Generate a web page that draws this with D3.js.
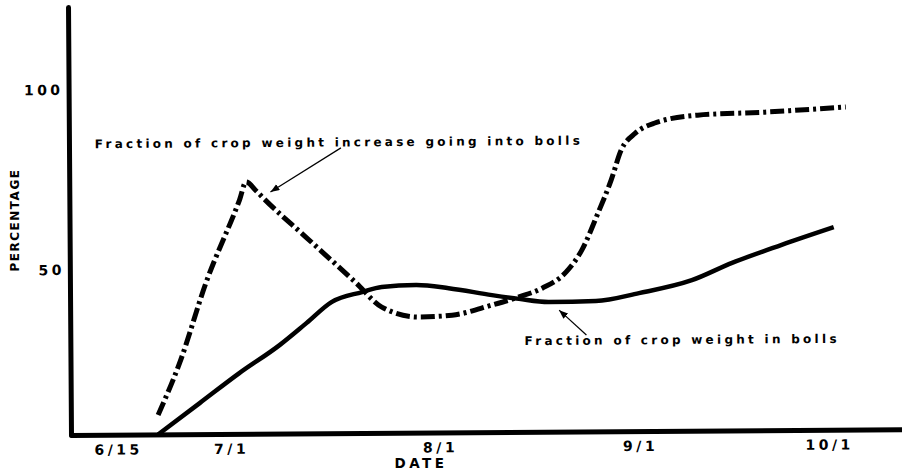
<!DOCTYPE html>
<html>
<head>
<meta charset="utf-8">
<script src="https://cdn.jsdelivr.net/npm/d3@7"></script>
<style>
  body { margin: 0; background: #fff; }
  text { font-family: "DejaVu Sans", sans-serif; font-weight: bold; fill: #000; }
</style>
</head>
<body>
<div id="chart"></div>
<script>
// page set up
const FRAME_WIDTH = 902;
const FRAME_HEIGHT = 473;

// tick values (days after 6/15) and their labels
const DAY_TICKS = [0, 16, 47, 78, 108];
const DATE_LABELS = ["6/15", "7/1", "8/1", "9/1", "10/1"];
const PCT_TICKS = [50, 100];

// fraction of crop weight in bolls (solid)
const BOLLS_DAYS = [5.7, 11.6, 17.3, 23.3, 27.3, 31.1, 35.6, 38.5, 43.6, 48.5, 55.2, 59.4, 64.0, 71.3, 78.0, 86.4, 92.8, 100.7, 109.0];
const BOLLS_PCT  = [0, 9.4, 18.4, 26.8, 33.4, 39.8, 42.7, 44.2, 44.7, 43.7, 41.5, 40.3, 39.3, 39.5, 41.8, 45.6, 50.7, 55.6, 60.4];

// fraction of crop weight increase going into bolls (dash-dot)
const INCREASE_DAYS = [5.7, 8.8, 12.6, 17.5, 18.5, 20.0, 21.3, 27.3, 34.7, 38.5, 44.0, 49.0, 55.2, 59.4, 63.0, 66.7, 69.2, 71.8, 73.8, 75.4, 77.6, 80.7, 87.5, 98.2, 111.1];
const INCREASE_PCT  = [5.9, 21.6, 45.8, 69.1, 74.1, 71.6, 69.1, 58.7, 45.5, 38.1, 35.0, 35.5, 38.5, 40.9, 43.5, 48.3, 54.6, 65.1, 73.9, 82.3, 86.9, 89.7, 91.8, 92.5, 93.8];

// annotations: [day, pct, width], arrows: [fromDay, fromPct, toDay, toPct]
const NOTE_TEXTS = ["Fraction of crop weight increase going into bolls", "Fraction of crop weight in bolls"];
const NOTE_POS = [[-3.0, 83.8, 485], [60.2, 26.3, 312]];
const ARROWS = [[32.6, 83.4, 22.1, 71.3], [69.8, 29.2, 65.6, 36.8]];

const SVG = d3.select("#chart")
  .append("svg")
  .attr("width", FRAME_WIDTH)
  .attr("height", FRAME_HEIGHT);

SVG.append("defs").append("marker")
  .attr("id", "head")
  .attr("markerUnits", "userSpaceOnUse")
  .attr("markerWidth", 10).attr("markerHeight", 8)
  .attr("refX", 9).attr("refY", 3.5)
  .attr("orient", "auto")
  .append("path")
  .attr("d", "M0,0L9,3.5L0,7Z");

// the scanned plot is tilted a little
const PLOT = SVG.append("g")
  .attr("transform", "rotate(-0.4, 71, 435)");

// scales (hand drawn axes are not evenly spaced)
const X_SCALE = d3.scaleLinear()
  .domain([-6.65, 0, 16, 47, 78, 108, 122])
  .range([71, 118, 231, 440, 640, 829, 915]);

const Y_SCALE = d3.scaleLinear()
  .domain([0, 50, 100, 123.06])
  .range([435, 270, 90, 7]);

// x axis
const xAxis = PLOT.append("g")
  .attr("transform", "translate(0," + Y_SCALE(0) + ")")
  .call(d3.axisBottom(X_SCALE)
    .tickValues(DAY_TICKS)
    .tickFormat((d, i) => DATE_LABELS[i])
    .tickSize(0)
    .tickPadding(10));

// y axis
const yAxis = PLOT.append("g")
  .attr("transform", "translate(" + X_SCALE(-6.65) + ",0)")
  .call(d3.axisLeft(Y_SCALE)
    .tickValues(PCT_TICKS)
    .tickSize(0)
    .tickPadding(5));

[xAxis, yAxis].forEach((ax) => {
  ax.select(".domain")
    .attr("stroke", "#000")
    .attr("stroke-width", 5)
    .attr("stroke-linecap", "round");
  ax.selectAll("text")
    .attr("font-size", "14px")
    .attr("letter-spacing", "3.5px")
    .style("font-family", "'DejaVu Sans', sans-serif")
    .style("font-weight", "bold");
});

// curves
const lineGen = (days, pcts) => d3.line()
  .x((d, i) => X_SCALE(days[i]))
  .y((d, i) => Y_SCALE(pcts[i]))
  .curve(d3.curveMonotoneX)(days);

PLOT.append("path")
  .attr("d", lineGen(BOLLS_DAYS, BOLLS_PCT))
  .attr("fill", "none")
  .attr("stroke", "#000")
  .attr("stroke-width", 4.5)
  .attr("stroke-linejoin", "round");

PLOT.append("path")
  .attr("d", lineGen(INCREASE_DAYS, INCREASE_PCT))
  .attr("fill", "none")
  .attr("stroke", "#000")
  .attr("stroke-width", 5)
  .attr("stroke-dasharray", "14,4,3,4");

// annotations
PLOT.selectAll(".note")
  .data(NOTE_TEXTS)
  .enter()
  .append("text")
  .attr("class", "note")
  .attr("x", (d, i) => X_SCALE(NOTE_POS[i][0]))
  .attr("y", (d, i) => Y_SCALE(NOTE_POS[i][1]))
  .attr("textLength", (d, i) => NOTE_POS[i][2])
  .attr("lengthAdjust", "spacing")
  .attr("font-size", "12px")
  .text((d) => d);

PLOT.selectAll(".arrow")
  .data(ARROWS)
  .enter()
  .append("line")
  .attr("x1", (d) => X_SCALE(d[0]))
  .attr("y1", (d) => Y_SCALE(d[1]))
  .attr("x2", (d) => X_SCALE(d[2]))
  .attr("y2", (d) => Y_SCALE(d[3]))
  .attr("stroke", "#000")
  .attr("stroke-width", 1.2)
  .attr("marker-end", "url(#head)");

// axis titles
SVG.append("text")
  .attr("x", 421)
  .attr("y", 468)
  .attr("text-anchor", "middle")
  .attr("font-size", "13.5px")
  .attr("letter-spacing", "3.5px")
  .text("DATE");

SVG.append("text")
  .attr("transform", "translate(19,220) rotate(-90)")
  .attr("text-anchor", "middle")
  .attr("font-size", "12px")
  .attr("letter-spacing", "1.5px")
  .text("PERCENTAGE");
</script>
</body>
</html>
